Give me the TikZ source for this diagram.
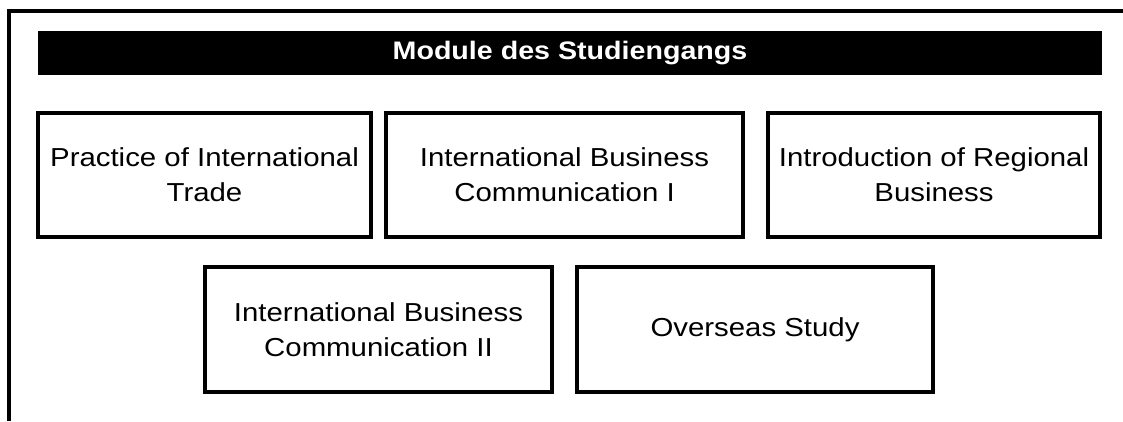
\documentclass[tikz,border=0pt]{standalone}
\usepackage{fontspec}
\setmainfont{Liberation Sans}[FakeStretch=1.13]
\begin{document}
\begin{tikzpicture}[x=0.75pt,y=-0.75pt,
  modul/.style={draw,line width=2.5pt,align=center,inner sep=0pt,
    font=\fontsize{19.5}{26.2}\selectfont},
  titel/.style={fill=black,text=white,inner sep=0pt,
    font=\fontsize{19}{22}\selectfont\bfseries}]

\useasboundingbox (0,0) rectangle (1123,421);

\draw [line width=2.5pt] (9,421) -- (9,11) -- (1123,11);

\node (title) [titel,minimum width=1064*0.75pt,minimum height=44*0.75pt] at (570,53) {Module des Studiengangs};

\node (trade) [modul,minimum width=333*0.75pt,minimum height=124*0.75pt] at (204.5,175) {Practice of International\\Trade};
\node (ibc1) [modul,minimum width=357*0.75pt,minimum height=124*0.75pt] at (564.5,175) {International Business\\Communication I};
\node (region) [modul,minimum width=332*0.75pt,minimum height=124*0.75pt] at (934,175) {Introduction of Regional\\Business};

\node (ibc2) [modul,minimum width=347*0.75pt,minimum height=125*0.75pt] at (378.5,329.5) {International Business\\Communication II};
\node (overseas) [modul,minimum width=356*0.75pt,minimum height=125*0.75pt] at (755,329.5) {Overseas Study};
\end{tikzpicture}
\end{document}
